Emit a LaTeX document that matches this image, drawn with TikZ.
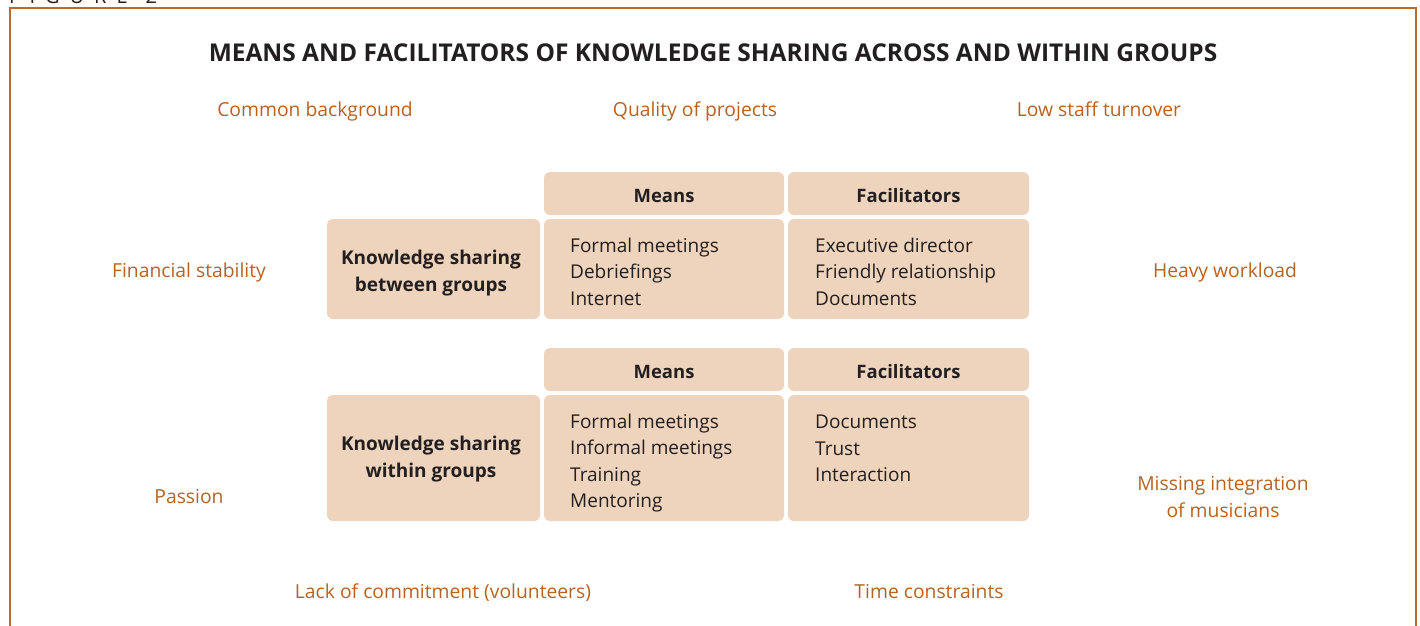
\documentclass[tikz,border=0pt]{standalone}
\usepackage{fontspec}
\setmainfont{Open Sans}
\definecolor{tan}{HTML}{EED4BC}
\definecolor{orng}{HTML}{B8621E}
\definecolor{ink}{HTML}{231F20}
\definecolor{framec}{HTML}{BF6A2A}
\begin{document}
\begin{tikzpicture}[x=1pt,y=-1pt,
 cell/.style={fill=tan, rounded corners=6pt, draw=none, inner sep=0pt},
 factor/.style={text=orng, font=\fontsize{19.3}{27}\selectfont, align=center, inner sep=0pt},
 fbase/.style={factor, anchor=base},
 head/.style={text=ink, font=\bfseries\fontsize{18.5}{22}\selectfont, inner sep=0pt, anchor=base},
 lbl/.style={text=ink, font=\bfseries\fontsize{19}{27}\selectfont, align=center, inner sep=0pt},
 lst/.style={text=ink, font=\fontsize{19}{26.5}\selectfont, align=left, anchor=west, inner sep=0pt}]
\useasboundingbox (0,0) rectangle (1420,625);
\begin{scope}
\clip (0,0) rectangle (1420,625);
\node[anchor=base west, inner sep=0pt, text=ink, font=\fontsize{20}{24}\selectfont] (fig) at (9,3)
  {F\hspace{10pt}I\hspace{10pt}G\hspace{10pt}U\hspace{10pt}R\hspace{10pt}E\hspace{18pt}2};
\draw[framec, line width=2pt] (10,640) -- (10,8) -- (1416,8) -- (1416,640);
\end{scope}

\node[text=ink, font=\bfseries\fontsize{24.5}{28}\selectfont, inner sep=0pt, anchor=base] (title) at (713,61.5)
  {MEANS AND FACILITATORS OF KNOWLEDGE SHARING ACROSS AND WITHIN GROUPS};

\node[fbase] (cb) at (315,116) {Common background};
\node[fbase] (qp) at (695,116) {Quality of projects};
\node[fbase] (lst) at (1099,116) {Low staff turnover};
\node[fbase] (fs) at (189,277) {Financial stability};
\node[fbase] (hw) at (1225,277) {Heavy workload};
\node[fbase] (pa) at (189,503) {Passion};
\node[factor] (mi) at (1223,497) {Missing integration\\of musicians};
\node[fbase] (lc) at (443,598) {Lack of commitment (volunteers)};
\node[fbase] (tc) at (929,598) {Time constraints};

% top table
\node[cell, minimum width=240pt, minimum height=43pt] (mh1) at (664,193.5) {};
\node[cell, minimum width=241pt, minimum height=43pt] (fh1) at (908.5,193.5) {};
\node[cell, minimum width=213pt, minimum height=100pt] (lb1) at (433.5,269) {};
\node[cell, minimum width=240pt, minimum height=100pt] (mc1) at (664,269) {};
\node[cell, minimum width=241pt, minimum height=100pt] (fc1) at (908.5,269) {};
\node[head] (mt1) at (664,202.6) {Means};
\node[head] (ft1) at (908.5,202.6) {Facilitators};
\node[lbl] (lt1) at (431,273) {Knowledge sharing\\between groups};
\node[lst] (ml1) at (570,271.5) {Formal meetings\\Debriefings\\Internet};
\node[lst] (fl1) at (815,271.5) {Executive director\\Friendly relationship\\Documents};

% bottom table
\node[cell, minimum width=240pt, minimum height=43pt] (mh2) at (664,369.5) {};
\node[cell, minimum width=241pt, minimum height=43pt] (fh2) at (908.5,369.5) {};
\node[cell, minimum width=213pt, minimum height=126pt] (lb2) at (433.5,458) {};
\node[cell, minimum width=240pt, minimum height=126pt] (mc2) at (664,458) {};
\node[cell, minimum width=241pt, minimum height=126pt] (fc2) at (908.5,458) {};
\node[head] (mt2) at (664,378.6) {Means};
\node[head] (ft2) at (908.5,378.6) {Facilitators};
\node[lbl] (lt2) at (431,459.5) {Knowledge sharing\\within groups};
\node[lst] (ml2) at (570,463) {Formal meetings\\Informal meetings\\Training\\Mentoring};
\node[lst] (fl2) at (815,448.5) {Documents\\Trust\\Interaction};
\end{tikzpicture}
\end{document}
